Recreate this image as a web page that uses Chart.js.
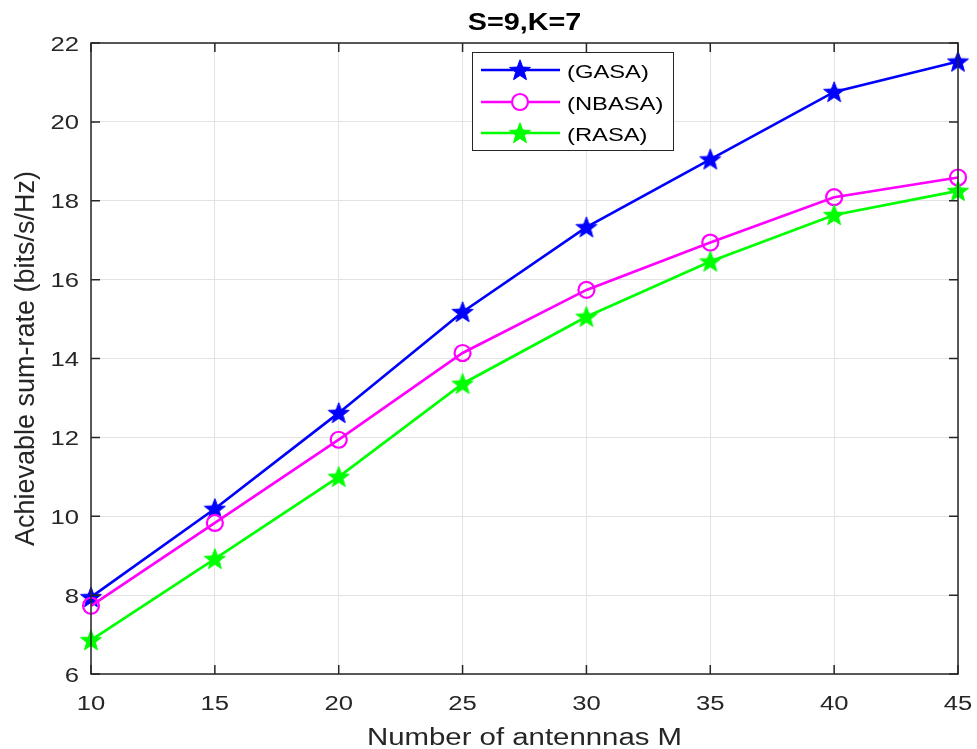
<!DOCTYPE html>
<html>
<head>
<meta charset="utf-8">
<script src="https://cdn.jsdelivr.net/npm/chart.js@4.4.1/dist/chart.umd.min.js"></script>
<style>
html,body{margin:0;padding:0;background:#fff;}
#wrap{width:977px;height:749px;}
</style>
</head>
<body>
<div id="wrap"><canvas id="c" width="977" height="749"></canvas></div>
<script>
const chartTitle = "S=9,K=7";
const xAxisTitle = "Number of antennnas M";
const yAxisTitle = "Achievable sum-rate (bits/s/Hz)";
const seriesNames = ["(GASA)", "(NBASA)", "(RASA)"];
const categories = [10, 15, 20, 25, 30, 35, 40, 45];
const gasa  = [7.95, 10.19, 12.62, 15.18, 17.33, 19.05, 20.76, 21.53];
const nbasa = [7.73, 9.83, 11.94, 14.14, 15.74, 16.94, 18.09, 18.59];
const rasa  = [6.86, 8.92, 11.00, 13.36, 15.06, 16.46, 17.64, 18.25];
const xTicks = [10, 15, 20, 25, 30, 35, 40, 45];
const yTicks = [6, 8, 10, 12, 14, 16, 18, 20, 22];

const FONT = "'Liberation Sans', Arial, Helvetica, sans-serif";
const SX = 1.25; // horizontal stretch of the reference's text

function makeStar(color) {
  const s = 26, c = document.createElement('canvas');
  c.width = s; c.height = s;
  const g = c.getContext('2d');
  const R = 11, r = 4.6, cx = s/2, cy = s/2 + 0.8;
  g.beginPath();
  for (let i = 0; i < 10; i++) {
    const a = -Math.PI/2 + i*Math.PI/5;
    const rad = i % 2 === 0 ? R : r;
    const x = cx + rad*Math.cos(a), y = cy + rad*Math.sin(a);
    i ? g.lineTo(x, y) : g.moveTo(x, y);
  }
  g.closePath();
  g.fillStyle = color; g.fill();
  g.strokeStyle = color; g.lineWidth = 1; g.stroke();
  return c;
}
const blueStar = makeStar('#0000ff');
const greenStar = makeStar('#00ff00');

const toPts = arr => categories.map((x, i) => ({x: x, y: arr[i]}));

// draw text horizontally stretched; align: 'left'|'center'|'right'
function sText(ctx, str, x, y, align) {
  const w = ctx.measureText(str).width * SX;
  let x0 = x;
  if (align === 'center') x0 = x - w/2;
  else if (align === 'right') x0 = x - w;
  ctx.save();
  ctx.translate(x0, y);
  ctx.scale(SX, 1);
  ctx.textAlign = 'left';
  ctx.fillText(str, 0, 0);
  ctx.restore();
}

const decor = {
  id: 'decor',
  afterDraw(chart) {
    const ctx = chart.ctx, a = chart.chartArea;
    const xs = chart.scales.x, ys = chart.scales.y;
    ctx.save();
    // box
    ctx.strokeStyle = '#262626'; ctx.lineWidth = 1.5;
    ctx.strokeRect(a.left, a.top, a.right - a.left, a.bottom - a.top);
    // inward ticks
    ctx.beginPath();
    const tl = 9;
    xTicks.forEach(v => {
      const px = xs.getPixelForValue(v);
      ctx.moveTo(px, a.bottom); ctx.lineTo(px, a.bottom - tl);
      ctx.moveTo(px, a.top); ctx.lineTo(px, a.top + tl);
    });
    yTicks.forEach(v => {
      const py = ys.getPixelForValue(v);
      ctx.moveTo(a.left, py); ctx.lineTo(a.left + tl, py);
      ctx.moveTo(a.right, py); ctx.lineTo(a.right - tl, py);
    });
    ctx.stroke();
    // tick labels
    ctx.fillStyle = '#262626';
    ctx.textBaseline = 'alphabetic';
    ctx.font = "20.5px " + FONT;
    xTicks.forEach(v => sText(ctx, String(v), xs.getPixelForValue(v), a.bottom + 36, 'center'));
    yTicks.forEach(v => sText(ctx, String(v), a.left - 12, ys.getPixelForValue(v) + 7.5, 'right'));
    // title
    ctx.fillStyle = '#000';
    ctx.font = "bold 23px " + FONT;
    sText(ctx, chartTitle, (a.left + a.right)/2, 30, 'center');
    // x title
    ctx.fillStyle = '#262626';
    ctx.font = "23.5px " + FONT;
    sText(ctx, xAxisTitle, (a.left + a.right)/2, 745, 'center');
    // y title (rotated)
    ctx.save();
    ctx.font = "27px " + FONT;
    ctx.translate(33.5, (a.top + a.bottom)/2);
    ctx.rotate(-Math.PI/2);
    ctx.textAlign = 'center';
    ctx.fillText(yAxisTitle, 0, 0);
    ctx.restore();
    // legend
    const lx = 472, ly = 52, lw = 201, lh = 98;
    ctx.fillStyle = '#fff';
    ctx.fillRect(lx, ly, lw, lh);
    ctx.strokeStyle = '#262626'; ctx.lineWidth = 1;
    ctx.strokeRect(lx + 0.5, ly + 0.5, lw, lh);
    const rows = [70, 102, 133];
    chart.data.datasets.forEach((ds, i) => {
      const y = rows[i];
      ctx.strokeStyle = ds.borderColor; ctx.lineWidth = 2.5;
      ctx.beginPath(); ctx.moveTo(481, y); ctx.lineTo(560, y); ctx.stroke();
      if (ds.pointStyle === 'circle') {
        ctx.beginPath(); ctx.arc(520, y, 8, 0, Math.PI*2);
        ctx.fillStyle = '#fff'; ctx.fill();
        ctx.lineWidth = 2.2; ctx.strokeStyle = ds.borderColor; ctx.stroke();
      } else {
        ctx.drawImage(ds.pointStyle, 520 - 13, y - 13);
      }
      ctx.fillStyle = '#000';
      ctx.font = "19px " + FONT;
      sText(ctx, ds.label, 567, y + 8, 'left');
    });
    ctx.restore();
  }
};

new Chart(document.getElementById('c'), {
  type: 'line',
  data: {
    datasets: [
      {label: seriesNames[0], data: toPts(gasa), borderColor: '#0000ff', backgroundColor: '#0000ff',
       borderWidth: 2.7, pointStyle: blueStar, pointRadius: 11, order: 3, clip: false, tension: 0},
      {label: seriesNames[1], data: toPts(nbasa), borderColor: '#ff00ff', backgroundColor: 'rgba(0,0,0,0)',
       borderWidth: 2.7, pointStyle: 'circle', pointRadius: 8, pointBorderWidth: 2.2, order: 2, clip: false, tension: 0},
      {label: seriesNames[2], data: toPts(rasa), borderColor: '#00ff00', backgroundColor: '#00ff00',
       borderWidth: 2.7, pointStyle: greenStar, pointRadius: 11, order: 1, clip: false, tension: 0}
    ]
  },
  options: {
    responsive: false,
    animation: false,
    devicePixelRatio: 1,
    layout: {padding: {left: 0, right: 19, top: 43, bottom: 0}},
    plugins: {legend: {display: false}, tooltip: {enabled: false}, title: {display: false}},
    scales: {
      x: {
        type: 'linear', min: 10, max: 45,
        afterBuildTicks: s => { s.ticks = xTicks.map(v => ({value: v})); },
        afterFit: s => { s.height = 75; },
        grid: {color: '#e3e3e3', lineWidth: 1, drawTicks: false},
        border: {display: false},
        ticks: {display: false}
      },
      y: {
        type: 'linear', min: 6, max: 22,
        afterBuildTicks: s => { s.ticks = yTicks.map(v => ({value: v})); },
        afterFit: s => { s.width = 91; },
        grid: {color: '#e3e3e3', lineWidth: 1, drawTicks: false},
        border: {display: false},
        ticks: {display: false}
      }
    }
  },
  plugins: [decor]
});
</script>
</body>
</html>
